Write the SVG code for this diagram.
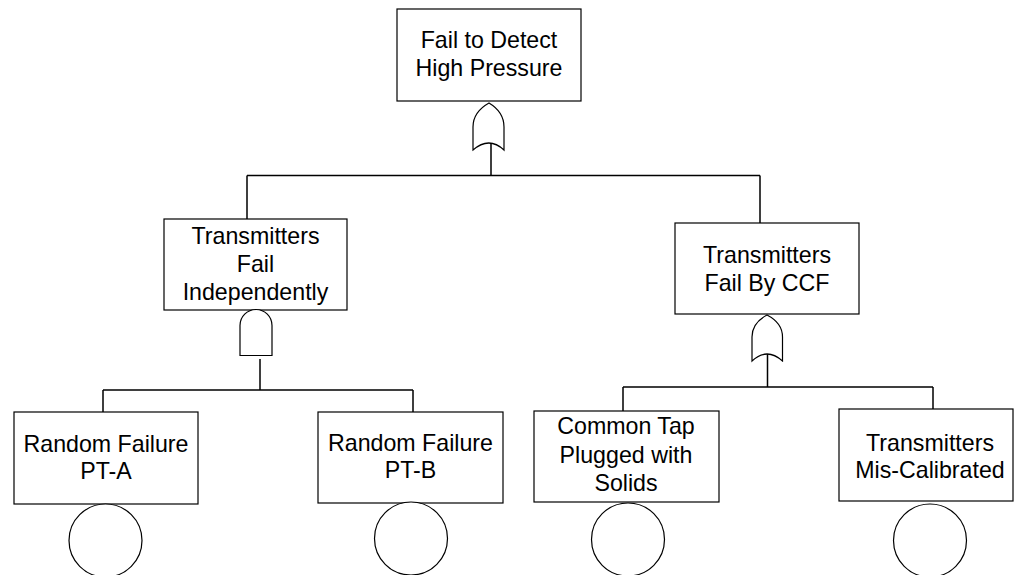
<svg xmlns="http://www.w3.org/2000/svg" width="1014" height="575" viewBox="0 0 1014 575">
  <style>
    .box { fill: #ffffff; stroke: #000000; stroke-width: 1.2; }
    .gate { fill: #ffffff; stroke: #000000; stroke-width: 1.2; }
    .basic { fill: #ffffff; stroke: #000000; stroke-width: 1.2; }
    .wire { fill: none; stroke: #000000; stroke-width: 1.5; }
    .label { font-family: "Liberation Sans", Arial, sans-serif; font-size: 23.2px; fill: #000000; text-anchor: middle; }
  </style>
  <rect width="1014" height="575" fill="#ffffff"/>

  <!-- connectors -->
  <g id="connectors">
    <path class="wire" d="M491,143 V175.5 M247,175.5 H760 M247,175.5 V219 M760,175.5 V223"/>
    <path class="wire" d="M260,359 V390 M103,390 H413 M103,390 V412 M413,390 V412"/>
    <path class="wire" d="M767.5,353 V387 M623,387 H933 M623,387 V411 M933,387 V409"/>
  </g>

  <!-- top event -->
  <g id="top-event">
    <rect class="box" x="397" y="9" width="184" height="92"/>
    <text class="label" x="489" y="47.5">Fail to Detect</text>
    <text class="label" x="489" y="76">High Pressure</text>
    <path class="gate" d="M473,150 Q489,136 504,150 L504,127 Q504,112 489,103 Q473,112 473,127 Z"/>
  </g>

  <!-- intermediate: independent failures -->
  <g id="fail-independently">
    <rect class="box" x="164" y="219" width="183" height="91"/>
    <text class="label" x="255.5" y="243.5">Transmitters</text>
    <text class="label" x="255.5" y="272">Fail</text>
    <text class="label" x="255.5" y="300">Independently</text>
    <path class="gate" d="M240,355.5 L240,325.5 A16,16 0 0 1 272,325.5 L272,355.5 Z"/>
  </g>

  <!-- intermediate: common cause failure -->
  <g id="fail-by-ccf">
    <rect class="box" x="675" y="223" width="184" height="91"/>
    <text class="label" x="767" y="262.5">Transmitters</text>
    <text class="label" x="767" y="290.5">Fail By CCF</text>
    <path class="gate" d="M752,361 Q767,347 782.5,361 L782.5,337 Q782.5,323 767,315 Q752,323 752,337 Z"/>
  </g>

  <!-- basic events -->
  <g id="random-failure-pt-a">
    <rect class="box" x="14" y="412" width="184" height="92"/>
    <text class="label" x="106" y="452">Random Failure</text>
    <text class="label" x="106" y="479">PT-A</text>
    <circle class="basic" cx="105.5" cy="540.5" r="36.5"/>
  </g>

  <g id="random-failure-pt-b">
    <rect class="box" x="318" y="412" width="185" height="91"/>
    <text class="label" x="410.5" y="451">Random Failure</text>
    <text class="label" x="410.5" y="477.5">PT-B</text>
    <circle class="basic" cx="411" cy="538.5" r="36.5"/>
  </g>

  <g id="common-tap-plugged">
    <rect class="box" x="534" y="411" width="185" height="91"/>
    <text class="label" x="626" y="434">Common Tap</text>
    <text class="label" x="626" y="463">Plugged with</text>
    <text class="label" x="626" y="490.5">Solids</text>
    <circle class="basic" cx="628" cy="539.5" r="36.5"/>
  </g>

  <g id="transmitters-mis-calibrated">
    <rect class="box" x="839" y="409" width="174" height="92"/>
    <text class="label" x="930" y="450.5">Transmitters</text>
    <text class="label" x="930" y="477.5">Mis-Calibrated</text>
    <circle class="basic" cx="930" cy="540.5" r="36.5"/>
  </g>
</svg>
